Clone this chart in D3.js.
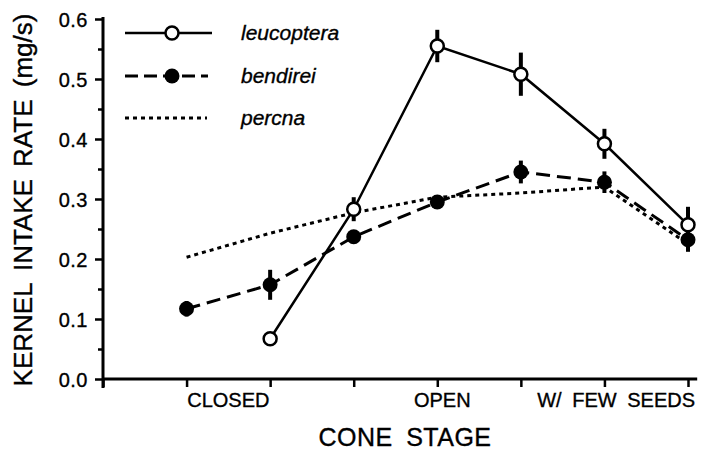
<!DOCTYPE html>
<html><head><meta charset="utf-8">
<script src="https://cdn.jsdelivr.net/npm/d3@7"></script>
<style>
html,body{margin:0;padding:0;background:#fff;}
svg{display:block;}
text{font-family:"Liberation Sans",Arial,Helvetica,sans-serif;fill:#000;stroke:#000;stroke-width:0.35px;}
</style></head>
<body>
<svg id="chart" width="706" height="451"></svg>
<script>
// Data
const stageIndex = [0, 1, 2, 3, 4, 5, 6];
const leucoptera = [null, 0.067, 0.283, 0.555, 0.508, 0.392, 0.257];
const leucopteraErr = [null, 0, 0.02, 0.027, 0.036, 0.025, 0.03];
const bendirei = [0.117, 0.157, 0.237, 0.295, 0.345, 0.328, 0.232];
const bendireiErr = [0.013, 0.025, 0.01, 0.008, 0.019, 0.018, 0.02];
const percna = [0.203, 0.243, 0.277, 0.303, 0.31, 0.32, 0.225];
const yMajorTicks = [0, 0.1, 0.2, 0.3, 0.4, 0.5, 0.6];
const yMinorTicks = [0.05, 0.15, 0.25, 0.35, 0.45, 0.55];
const xTicks = [-1, 0, 1, 2, 3, 4, 5, 6];
const stageLabels = ["CLOSED", "OPEN", "W/ FEW SEEDS"];
const stageLabelPos = [0.5, 3.06, 5.14];
const seriesNames = ["leucoptera", "bendirei", "percna"];
const yTitle = "KERNEL INTAKE RATE (mg/s)";
const xTitle = "CONE STAGE";

const svg = d3.select("#chart");
const x = d3.scaleLinear().domain([-1, 6]).range([103, 688]);
const y = d3.scaleLinear().domain([0, 0.6]).range([379, 19]);

// Y axis
const yAxis = svg.append("g").attr("transform", `translate(${x(-1)},0)`)
  .call(d3.axisLeft(y).tickValues(yMajorTicks).tickSize(8).tickPadding(7).tickFormat(d3.format(".1f")));
yAxis.select(".domain").attr("d", `M0,${y(0.6)-2}V${y(0)+9}`).attr("stroke", "#000").attr("stroke-width", 3);
yAxis.selectAll(".tick line").attr("stroke-width", 2.5);
yAxis.selectAll(".tick text").style("font-size", "20px").style("letter-spacing", "0.5px").attr("dy", "0.36em");
const yMinor = svg.append("g").attr("transform", `translate(${x(-1)},0)`)
  .call(d3.axisLeft(y).tickValues(yMinorTicks).tickSize(5).tickFormat(""));
yMinor.select(".domain").remove();
yMinor.selectAll(".tick line").attr("stroke-width", 2.5);

// X axis
const xAxis = svg.append("g").attr("transform", `translate(0,${y(0)})`)
  .call(d3.axisBottom(x).tickValues(xTicks).tickSize(8).tickFormat(""));
xAxis.select(".domain").attr("d", `M${x(-1)},0H${x(6.11)}`).attr("stroke", "#000").attr("stroke-width", 3);
xAxis.selectAll(".tick line").attr("stroke-width", 2.5);

svg.append("g").selectAll("text").data(stageLabels).join("text")
  .attr("x", (d, i) => x(stageLabelPos[i])).attr("y", 407)
  .attr("text-anchor", "middle").style("font-size", "20px").style("word-spacing", "5px").text(d => d);

svg.append("text").attr("x", 405).attr("y", 446).attr("text-anchor", "middle")
  .style("font-size", "25px").style("letter-spacing", "0.5px").style("word-spacing", "6px").text(xTitle);
svg.append("text").attr("transform", "translate(32,200) rotate(-90)")
  .attr("text-anchor", "middle").style("font-size", "26px").style("word-spacing", "5px").text(yTitle);

// Lines
const lineGen = d3.line().defined(d => d[1] != null).x(d => x(d[0])).y(d => y(d[1]));
const pts = arr => stageIndex.map((s, i) => [s, arr[i]]);

svg.append("path").attr("d", lineGen(pts(percna))).attr("fill", "none")
  .attr("stroke", "#000").attr("stroke-width", 3).attr("stroke-dasharray", "4,4");
svg.append("path").attr("d", lineGen(pts(bendirei))).attr("fill", "none")
  .attr("stroke", "#000").attr("stroke-width", 3).attr("stroke-dasharray", "14,7");
svg.append("path").attr("d", lineGen(pts(leucoptera))).attr("fill", "none")
  .attr("stroke", "#000").attr("stroke-width", 2.5);

// Error bars
function errBars(vals, errs) {
  svg.append("g").selectAll("line")
    .data(stageIndex.filter((s, i) => vals[i] != null && errs[i] > 0))
    .join("line")
    .attr("x1", s => x(s)).attr("x2", s => x(s))
    .attr("y1", s => y(vals[s] - errs[s])).attr("y2", s => y(vals[s] + errs[s]))
    .attr("stroke", "#000").attr("stroke-width", 4);
}
errBars(bendirei, bendireiErr);
errBars(leucoptera, leucopteraErr);

// Markers
svg.append("g").selectAll("circle").data(stageIndex).join("circle")
  .attr("cx", s => x(s)).attr("cy", s => y(bendirei[s])).attr("r", 7.5).attr("fill", "#000");
svg.append("g").selectAll("circle").data(stageIndex.filter(s => leucoptera[s] != null)).join("circle")
  .attr("cx", s => x(s)).attr("cy", s => y(leucoptera[s])).attr("r", 6.5)
  .attr("fill", "#fff").attr("stroke", "#000").attr("stroke-width", 2.5);

// Legend
const legY = [33, 76, 118];
const lg = svg.append("g");
lg.append("line").attr("x1", 125).attr("x2", 212).attr("y1", legY[0]).attr("y2", legY[0])
  .attr("stroke", "#000").attr("stroke-width", 2.5);
lg.append("circle").attr("cx", 172).attr("cy", legY[0]).attr("r", 6.5)
  .attr("fill", "#fff").attr("stroke", "#000").attr("stroke-width", 2.5);
lg.append("line").attr("x1", 125).attr("x2", 208).attr("y1", legY[1]).attr("y2", legY[1])
  .attr("stroke", "#000").attr("stroke-width", 3).attr("stroke-dasharray", "13,6");
lg.append("circle").attr("cx", 172).attr("cy", legY[1]).attr("r", 7.5).attr("fill", "#000");
lg.append("line").attr("x1", 125).attr("x2", 207).attr("y1", legY[2]).attr("y2", legY[2])
  .attr("stroke", "#000").attr("stroke-width", 3).attr("stroke-dasharray", "4,4");
lg.selectAll("text").data(seriesNames).join("text")
  .attr("x", 241).attr("y", (d, i) => legY[i] + 7)
  .style("font-size", "21px").style("font-style", "italic").text(d => d);
</script>
</body></html>
